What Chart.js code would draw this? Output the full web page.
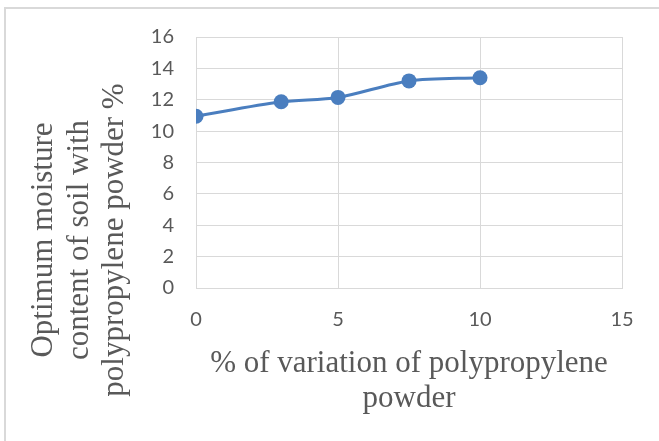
<!DOCTYPE html>
<html lang="en">
<head>
    <meta charset="UTF-8">
    <title>Optimum moisture content</title>
    <style>
        body {
            margin: 0;
            padding: 0;
            background-color: #ffffff;
        }

        .wrap {
            position: relative;
            width: 659px;
            height: 441px;
            overflow: hidden;
        }

        /* cropped outer frame of the chart (only top and left edges show) */
        .frame {
            position: absolute;
            left: 4px;
            top: 7px;
            width: 700px;
            height: 500px;
            border-top: 2px solid #d9d9d9;
            border-left: 2px solid #d9d9d9;
        }

        #chart {
            position: absolute;
            left: 0;
            top: 0;
        }
    </style>
</head>
<body>
    <div class="wrap">
        <div class="frame"></div>
        <canvas id="chart" width="659" height="441"></canvas>
    </div>

    <script src="https://cdn.jsdelivr.net/npm/chart.js"></script>
    <script>
        // valores
        var ppPercent = [0, 3, 5, 7.5, 10];
        var moisture = [10.95, 11.87, 12.15, 13.2, 13.4];
        var xTicks = [0, 5, 10, 15];
        var yTicks = [0, 2, 4, 6, 8, 10, 12, 14, 16];

        var yTitle = ['Optimum moisture', 'content of soil with', 'polypropylene powder %'];
        var xTitle = ['% of variation of polypropylene', 'powder'];

        var points = ppPercent.map(function (x, i) {
            return { x: x, y: moisture[i] };
        });

        var gridColor = '#d9d9d9';
        var textColor = '#595959';
        var blue = '#4a7ebf';

        // titulos dos eixos (em serif, como no original)
        var axisTitles = {
            id: 'axisTitles',
            afterDraw: function (chart) {
                var ctx = chart.ctx;
                var area = chart.chartArea;
                ctx.save();
                ctx.fillStyle = textColor;
                ctx.font = '31px "Liberation Serif", "Times New Roman", serif';
                ctx.textAlign = 'center';
                ctx.textBaseline = 'alphabetic';

                var cx = (area.left + area.right) / 2;
                xTitle.forEach(function (line, i) {
                    ctx.fillText(line, cx, area.bottom + 84 + i * 35);
                });

                ctx.translate(0, 240);
                ctx.rotate(-Math.PI / 2);
                yTitle.forEach(function (line, i) {
                    ctx.fillText(line, 0, 52 + i * 35.5);
                });
                ctx.restore();
            }
        };

        var config = {
            type: 'scatter',
            data: {
                datasets: [{
                    data: points,
                    showLine: true,
                    borderColor: blue,
                    backgroundColor: blue,
                    borderWidth: 3,
                    pointRadius: 7.5,
                    pointHoverRadius: 7.5,
                    pointBorderWidth: 0,
                    tension: 0.3
                }]
            },
            options: {
                responsive: false,
                animation: false,
                layout: {
                    padding: { left: 0, top: 37, right: 37, bottom: 0 }
                },
                plugins: {
                    legend: { display: false },
                    tooltip: { enabled: false }
                },
                scales: {
                    x: {
                        type: 'linear',
                        min: xTicks[0],
                        max: xTicks[xTicks.length - 1],
                        afterBuildTicks: function (scale) {
                            scale.ticks = xTicks.map(function (v) { return { value: v }; });
                        },
                        afterFit: function (scale) { scale.height = 153; },
                        grid: { color: gridColor, drawTicks: false, lineWidth: 1 },
                        border: { color: gridColor },
                        ticks: {
                            color: textColor,
                            padding: 20,
                            font: { family: 'Lato, "Liberation Sans", sans-serif', size: 20 }
                        }
                    },
                    y: {
                        min: yTicks[0],
                        max: yTicks[yTicks.length - 1],
                        afterBuildTicks: function (scale) {
                            scale.ticks = yTicks.map(function (v) { return { value: v }; });
                        },
                        afterFit: function (scale) { scale.width = 196; },
                        grid: { color: gridColor, drawTicks: false, lineWidth: 1 },
                        border: { color: gridColor },
                        ticks: {
                            color: textColor,
                            padding: 22,
                            font: { family: 'Lato, "Liberation Sans", sans-serif', size: 20 }
                        }
                    }
                }
            },
            plugins: [axisTitles]
        };

        var ctx = document.getElementById('chart').getContext('2d');
        new Chart(ctx, config);
    </script>
</body>
</html>
